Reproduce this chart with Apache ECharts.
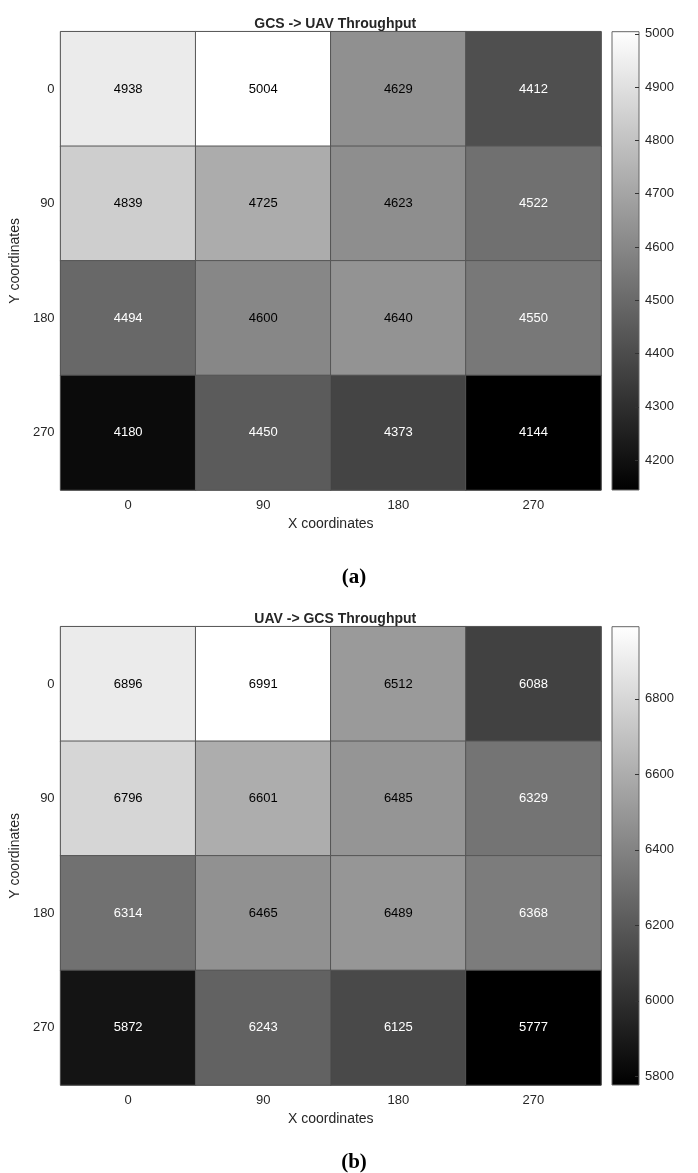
<!DOCTYPE html>
<html>
<head>
<meta charset="utf-8">
<script src="https://cdn.jsdelivr.net/npm/echarts@6/dist/echarts.min.js"></script>
<style>
html,body{margin:0;padding:0;background:#fff;}
#chart{width:698px;height:1173px;}
</style>
</head>
<body>
<div id="chart"></div>
<script>
// ---- data ----
const xLabels = ['0', '90', '180', '270'];
const yLabels = ['0', '90', '180', '270'];
const gcsToUav = [
  [4938, 5004, 4629, 4412],
  [4839, 4725, 4623, 4522],
  [4494, 4600, 4640, 4550],
  [4180, 4450, 4373, 4144]
];
const uavToGcs = [
  [6896, 6991, 6512, 6088],
  [6796, 6601, 6485, 6329],
  [6314, 6465, 6489, 6368],
  [5872, 6243, 6125, 5777]
];
const ticksA = [4200, 4300, 4400, 4500, 4600, 4700, 4800, 4900, 5000];
const ticksB = [5800, 6000, 6200, 6400, 6600, 6800];
const titleA = 'GCS -> UAV Throughput';
const titleB = 'UAV -> GCS Throughput';

// ---- build ----
function flat(m) { return [].concat(...m); }
function cells(m) {
  const all = flat(m);
  const mn = Math.min(...all), mx = Math.max(...all);
  const mid = (mn + mx) / 2;
  const out = [];
  m.forEach((row, yi) => row.forEach((v, xi) => {
    out.push({ value: [xi, yi, v], label: { color: v >= mid ? '#000000' : '#ffffff' } });
  }));
  return out;
}
const minA = Math.min(...flat(gcsToUav)), maxA = Math.max(...flat(gcsToUav));
const minB = Math.min(...flat(uavToGcs)), maxB = Math.max(...flat(uavToGcs));

const GL = 59.5, GW = 541.5, GH = 458.3, TA = 31.7, TB = 626.7;
const CL = 612, CW = 27;
const txt = '#262626';
const font = 'Liberation Sans, Arial, Helvetica, sans-serif';
const grad = {
  type: 'linear', x: 0, y: 0, x2: 0, y2: 1,
  colorStops: [{ offset: 0, color: '#ffffff' }, { offset: 1, color: '#000000' }]
};

function catX(gi) {
  return {
    type: 'category', data: xLabels, gridIndex: gi, position: 'bottom',
    axisTick: { show: false }, axisLine: { show: false }, splitLine: { show: false },
    axisLabel: { color: txt, fontSize: 13, margin: 9, fontFamily: font },
    name: 'X coordinates', nameLocation: 'middle', nameGap: 27,
    nameTextStyle: { color: txt, fontSize: 14, fontFamily: font }
  };
}
function catY(gi) {
  return {
    type: 'category', data: yLabels, gridIndex: gi, inverse: true,
    axisTick: { show: false }, axisLine: { show: false }, splitLine: { show: false },
    axisLabel: { color: txt, fontSize: 13, margin: 6, fontFamily: font },
    name: 'Y coordinates', nameLocation: 'middle', nameGap: 29,
    nameTextStyle: { color: txt, fontSize: 14, fontFamily: font }
  };
}
function cbX(gi) {
  return { type: 'value', gridIndex: gi, min: 0, max: 1, show: false };
}
function cbY(gi, mn, mx, ticks) {
  return {
    type: 'value', gridIndex: gi, min: mn, max: mx, position: 'right',
    axisLine: { show: false, onZero: false }, splitLine: { show: false },
    axisTick: { show: true, inside: true, length: 4, lineStyle: { color: '#333' }, customValues: ticks },
    axisLabel: { color: txt, fontSize: 13, margin: 6, fontFamily: font, customValues: ticks,
      formatter: v => String(v) }
  };
}
function heat(gi, m) {
  return {
    type: 'heatmap', xAxisIndex: gi, yAxisIndex: gi, data: cells(m),
    label: { show: true, fontSize: 13, fontFamily: font, formatter: p => String(p.value[2]) },
    itemStyle: { borderColor: '#555555', borderWidth: 1 },
    emphasis: { disabled: true }
  };
}

const labelStyle = { fontSize: 21, fontWeight: 'bold', color: '#000', fontFamily: 'Liberation Serif, DejaVu Serif, serif' };

const option = {
  backgroundColor: '#ffffff',
  animation: false,
  title: [
    { text: titleA, left: GL + GW / 2, top: 12, textAlign: 'center',
      textStyle: { fontSize: 14, fontWeight: 'bold', color: txt, fontFamily: font } },
    { text: titleB, left: GL + GW / 2, top: 607, textAlign: 'center',
      textStyle: { fontSize: 14, fontWeight: 'bold', color: txt, fontFamily: font } },
    { text: '(a)', left: 349, top: 562, textAlign: 'center', textStyle: labelStyle },
    { text: '(b)', left: 349, top: 1147, textAlign: 'center', textStyle: labelStyle }
  ],
  grid: [
    { left: GL, top: TA, width: GW, height: GH, show: true, borderColor: '#555', borderWidth: 1, backgroundColor: 'transparent' },
    { left: GL, top: TB, width: GW, height: GH, show: true, borderColor: '#555', borderWidth: 1, backgroundColor: 'transparent' },
    { left: CL, top: TA, width: CW, height: GH, show: true, borderColor: '#666', borderWidth: 1, backgroundColor: grad },
    { left: CL, top: TB, width: CW, height: GH, show: true, borderColor: '#666', borderWidth: 1, backgroundColor: grad }
  ],
  xAxis: [catX(0), catX(1), cbX(2), cbX(3)],
  yAxis: [catY(0), catY(1), cbY(2, minA, maxA, ticksA), cbY(3, minB, maxB, ticksB)],
  visualMap: [
    { show: false, type: 'continuous', seriesIndex: 0, dimension: 2, min: minA, max: maxA,
      inRange: { color: ['#000000', '#ffffff'] } },
    { show: false, type: 'continuous', seriesIndex: 1, dimension: 2, min: minB, max: maxB,
      inRange: { color: ['#000000', '#ffffff'] } }
  ],
  series: [heat(0, gcsToUav), heat(1, uavToGcs)]
};

const chart = echarts.init(document.getElementById('chart'), null, { renderer: 'canvas' });
chart.setOption(option);
</script>
</body>
</html>
